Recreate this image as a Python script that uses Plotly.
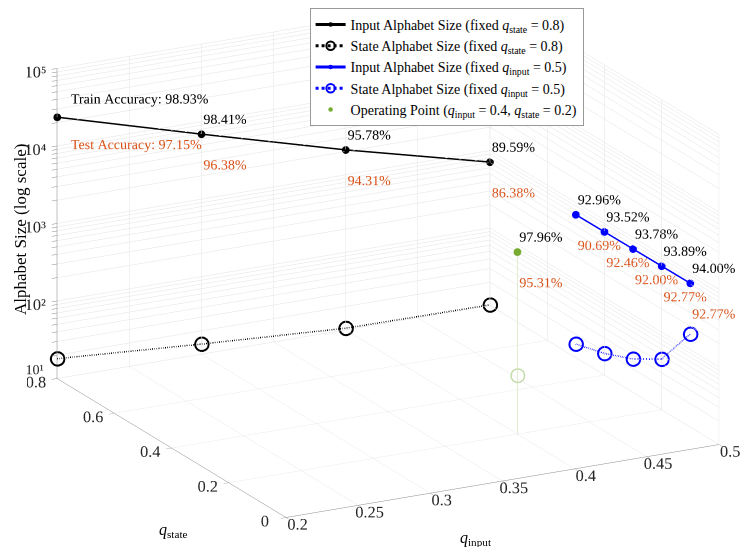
import plotly.graph_objects as go

# sweep over q_input with q_state fixed at 0.8
q_input_sweep = [0.2, 0.3, 0.4, 0.5]
input_size_a = [23500, 6900, 2100, 710]
state_size_a = [18, 13.5, 10.5, 10.2]
train_a = ["Train Accuracy: 98.93%", "98.41%", "95.78%", "89.59%"]
test_a = ["Test Accuracy: 97.15%", "96.38%", "94.31%", "86.38%"]

# sweep over q_state with q_input fixed at 0.5
q_state_sweep = [0.5, 0.4, 0.3, 0.2, 0.1]
input_size_b = [700, 705, 710, 715, 720]
state_size_b = [15, 19, 27, 45, 159]
train_b = ["92.96%", "93.52%", "93.78%", "93.89%", "94.00%"]
test_b = ["90.69%", "92.46%", "92.00%", "92.77%", "92.77%"]

# operating point
op_q_input, op_q_state = 0.4, 0.2
op_input_size = 2240
op_state_size = 57
op_train, op_test = "97.96%", "95.31%"

z_floor = 10
x_ticks = [0.2, 0.25, 0.3, 0.35, 0.4, 0.45, 0.5]
y_ticks = [0, 0.2, 0.4, 0.6, 0.8]

BLACK = "#000000"
BLUE = "#0000FF"
GREEN = "#77AC30"
ORANGE = "#D95319"
FONT = "Liberation Serif"

fig = go.Figure()

fixed_state = [0.8] * len(q_input_sweep)
fixed_input = [0.5] * len(q_state_sweep)

fig.add_trace(go.Scatter3d(
    x=q_input_sweep, y=fixed_state, z=input_size_a, mode="lines+markers",
    name="Input Alphabet Size (fixed <i>q</i><sub>state</sub> = 0.8)",
    line=dict(color=BLACK, width=3), marker=dict(color=BLACK, size=4.5)))
fig.add_trace(go.Scatter3d(
    x=q_input_sweep, y=fixed_state, z=state_size_a, mode="lines+markers",
    name="State Alphabet Size (fixed <i>q</i><sub>state</sub> = 0.8)",
    line=dict(color=BLACK, width=3, dash="dot"),
    marker=dict(color=BLACK, size=8.5, symbol="circle-open",
                line=dict(width=2, color=BLACK))))
fig.add_trace(go.Scatter3d(
    x=fixed_input, y=q_state_sweep, z=input_size_b, mode="lines+markers",
    name="Input Alphabet Size (fixed <i>q</i><sub>input</sub> = 0.5)",
    line=dict(color=BLUE, width=3), marker=dict(color=BLUE, size=4.5)))
fig.add_trace(go.Scatter3d(
    x=fixed_input, y=q_state_sweep, z=state_size_b, mode="lines+markers",
    name="State Alphabet Size (fixed <i>q</i><sub>input</sub> = 0.5)",
    line=dict(color=BLUE, width=3, dash="dot"),
    marker=dict(color=BLUE, size=8.5, symbol="circle-open",
                line=dict(width=2, color=BLUE))))

# faint stem + state size marker for operating point
fig.add_trace(go.Scatter3d(
    x=[op_q_input, op_q_input], y=[op_q_state, op_q_state], z=[z_floor, op_input_size],
    mode="lines", line=dict(color="#D6E7C3", width=1.5), showlegend=False))
fig.add_trace(go.Scatter3d(
    x=[op_q_input], y=[op_q_state], z=[op_state_size], mode="markers",
    marker=dict(color="#C5DBA9", size=8.5, symbol="circle-open",
                line=dict(color="#C5DBA9")), showlegend=False))
fig.add_trace(go.Scatter3d(
    x=[op_q_input], y=[op_q_state], z=[op_input_size], mode="markers",
    name="Operating Point (<i>q</i><sub>input</sub> = 0.4, <i>q</i><sub>state</sub> = 0.2)",
    marker=dict(color=GREEN, size=4.5)))

# accuracy labels, left edge near the point (shift cancels text offset,
# but never past the lower x limit or the label gets clipped)
up, down, dx = 1.65, 2.35, 0.008
lab_x = [max(v - dx, 0.2) for v in q_input_sweep + fixed_input + [op_q_input]]
lab_y = fixed_state + q_state_sweep + [op_q_state]
lab_z = input_size_a + input_size_b + [op_input_size]
fig.add_trace(go.Scatter3d(
    x=lab_x, y=lab_y, z=[v * up for v in lab_z], mode="text",
    text=train_a + train_b + [op_train], textposition="middle right",
    textfont=dict(color=BLACK, size=14, family=FONT), showlegend=False))
fig.add_trace(go.Scatter3d(
    x=lab_x, y=lab_y, z=[v / down for v in lab_z], mode="text",
    text=test_a + test_b + [op_test], textposition="middle right",
    textfont=dict(color=ORANGE, size=14, family=FONT), showlegend=False))

# log ticks: labels on decades, minor ticks/grid in between
z_vals, z_text = [], []
for k in range(1, 5):
    for m in range(1, 10):
        z_vals.append(m * 10 ** k)
        z_text.append("10" + "⁰¹²³⁴⁵"[k] if (m == 1 and k > 1) else "")
z_vals.append(10 ** 5)
z_text.append("10⁵")
# bottom decade label drawn separately so it does not sit on the 0.8 label
fig.add_trace(go.Scatter3d(
    x=[0.2], y=[0.8], z=[z_floor * 1.3], mode="text", text=["10¹"],
    textposition="middle left", textfont=dict(color="#262626", size=14, family=FONT),
    showlegend=False))

axis_common = dict(
    showbackground=False, showgrid=True, gridcolor="#E3E3E3", gridwidth=1,
    showline=True, linecolor="#8C8C8C", linewidth=1, zeroline=False,
    ticks="outside", tickcolor="#8C8C8C", ticklen=6, showspikes=False,
    tickangle=0, title=dict(text=""),
    tickfont=dict(size=14, family=FONT, color="#262626"),
)

# tiny pad on the limits so lines lying on the walls are not clipped
eps = 1e-4

# view: azimuth/elevation matched to the reference, orthographic
s = 1.7895
view_dir = (-0.4417, -0.8383, 0.3199)
ctr = (0.0129, -0.0068, -0.0965)
eye_len = 3.0
fig.update_layout(
    width=754, height=547,
    paper_bgcolor="white",
    font=dict(family=FONT, size=14, color="black"),
    margin=dict(l=0, r=0, t=0, b=0),
    scene=dict(
        domain=dict(x=[0.0246, 0.9926], y=[0.0, 1.0]),
        xaxis=dict(axis_common, range=[0.2 - eps, 0.5 + eps], tickvals=x_ticks,
                   ticktext=[str(v) for v in x_ticks]),
        yaxis=dict(axis_common, range=[0 - eps, 0.8 + eps], tickvals=y_ticks,
                   ticktext=[str(v) for v in y_ticks]),
        zaxis=dict(axis_common, type="log", range=[1 - eps, 5], tickvals=z_vals,
                   ticktext=z_text),
        aspectmode="manual",
        aspectratio=dict(x=s, y=1.0037 * s, z=0.6686 * s),
        camera=dict(
            eye=dict(x=ctr[0] + view_dir[0] * eye_len,
                     y=ctr[1] + view_dir[1] * eye_len,
                     z=ctr[2] + view_dir[2] * eye_len),
            center=dict(x=ctr[0], y=ctr[1], z=ctr[2]),
            projection=dict(type="orthographic"),
        ),
    ),
    annotations=[
        dict(text="<i>q</i><sub>input</sub>", x=468 / 754, y=1 - 530 / 547,
             xref="paper", yref="paper", showarrow=False, font=dict(size=16),
             xanchor="center", yanchor="middle"),
        dict(text="<i>q</i><sub>state</sub>", x=165 / 754, y=1 - 522 / 547,
             xref="paper", yref="paper", showarrow=False, font=dict(size=16),
             xanchor="center", yanchor="middle"),
        dict(text="Alphabet Size (log scale)", x=12 / 754, y=1 - 222 / 547,
             xref="paper", yref="paper", showarrow=False, textangle=-90,
             font=dict(size=17), xanchor="center", yanchor="middle"),
    ],
    legend=dict(
        x=0.40, y=1.0, xanchor="left", yanchor="top",
        bgcolor="white", bordercolor="#999999", borderwidth=1,
        font=dict(size=14, family=FONT), tracegroupgap=0,
    ),
    showlegend=True,
)

fig.write_html("out.html", config={"displayModeBar": False})
